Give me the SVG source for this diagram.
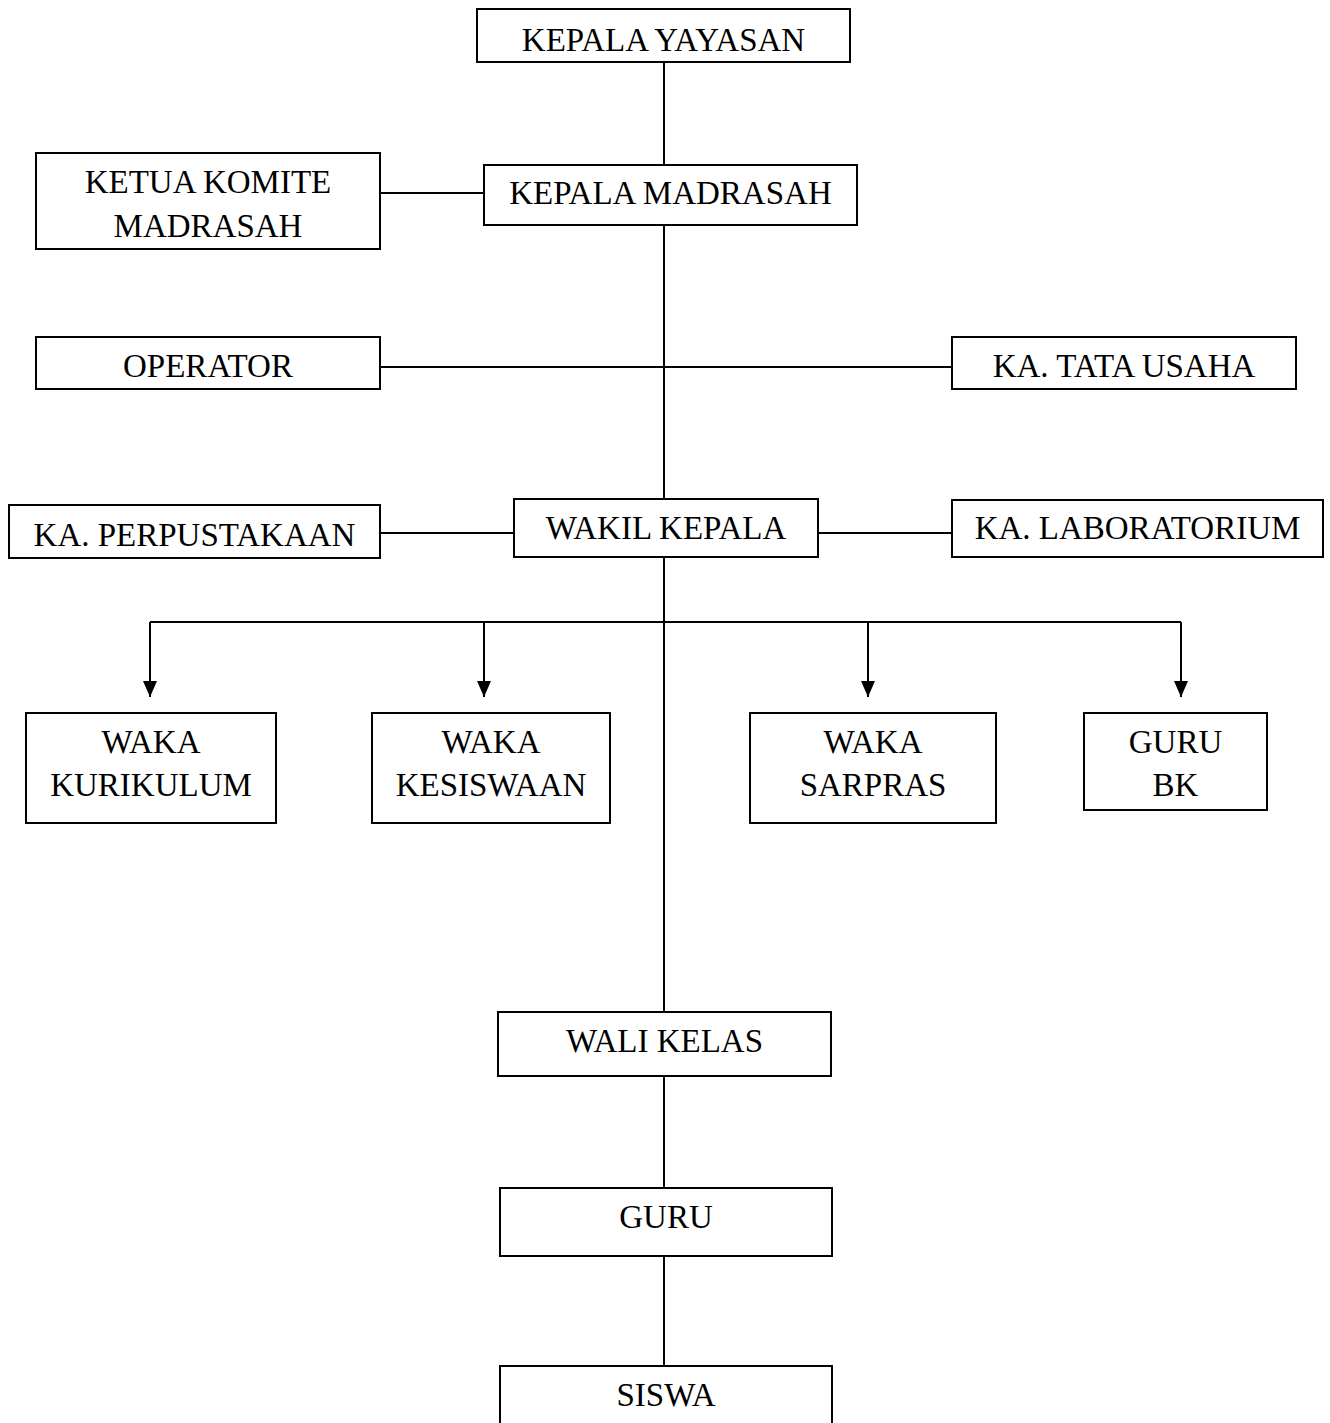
<svg xmlns="http://www.w3.org/2000/svg" width="1330" height="1423" viewBox="0 0 1330 1423">
<style>
.box{fill:#fff;stroke:#000;stroke-width:2}
.t{font-family:"Liberation Serif","Times New Roman",serif;font-size:33px;fill:#000;text-anchor:middle}
.c{stroke:#000;stroke-width:2;fill:none}
</style>
<defs>
<marker id="arr" markerUnits="userSpaceOnUse" markerWidth="16" markerHeight="16" viewBox="0 0 16 16" refX="8" refY="16" orient="0">
<path d="M1,0 L15,0 L8,16 Z" fill="#000"/>
</marker>
</defs>
<rect width="1330" height="1423" fill="#fff"/>
<g id="connectors">
<line class="c" x1="664" y1="62" x2="664" y2="165"/>
<line class="c" x1="380" y1="193" x2="484" y2="193"/>
<line class="c" x1="664" y1="225" x2="664" y2="500"/>
<line class="c" x1="380" y1="367" x2="952" y2="367"/>
<line class="c" x1="380" y1="533" x2="514" y2="533"/>
<line class="c" x1="818" y1="533" x2="952" y2="533"/>
<line class="c" x1="664" y1="557" x2="664" y2="1012"/>
<line class="c" x1="150" y1="622" x2="1181" y2="622"/>
<line class="c" x1="150" y1="622" x2="150" y2="697" marker-end="url(#arr)"/>
<line class="c" x1="484" y1="622" x2="484" y2="697" marker-end="url(#arr)"/>
<line class="c" x1="868" y1="622" x2="868" y2="697" marker-end="url(#arr)"/>
<line class="c" x1="1181" y1="622" x2="1181" y2="697" marker-end="url(#arr)"/>
<line class="c" x1="664" y1="1076" x2="664" y2="1188"/>
<line class="c" x1="664" y1="1256" x2="664" y2="1366"/>
</g>
<g id="kepala-yayasan"><rect class="box" x="477" y="9" width="373" height="53"/><text class="t" x="663.5" y="51">KEPALA YAYASAN</text></g>
<g id="kepala-madrasah"><rect class="box" x="484" y="165" width="373" height="60"/><text class="t" x="670.5" y="204">KEPALA MADRASAH</text></g>
<g id="ketua-komite"><rect class="box" x="36" y="153" width="344" height="96"/><text class="t" x="208" y="193">KETUA KOMITE</text><text class="t" x="208" y="237">MADRASAH</text></g>
<g id="operator"><rect class="box" x="36" y="337" width="344" height="52"/><text class="t" x="208" y="377">OPERATOR</text></g>
<g id="ka-tata-usaha"><rect class="box" x="952" y="337" width="344" height="52"/><text class="t" x="1124" y="377">KA. TATA USAHA</text></g>
<g id="ka-perpustakaan"><rect class="box" x="9" y="505" width="371" height="53"/><text class="t" x="194.5" y="546">KA. PERPUSTAKAAN</text></g>
<g id="wakil-kepala"><rect class="box" x="514" y="499" width="304" height="58"/><text class="t" x="666" y="539">WAKIL KEPALA</text></g>
<g id="ka-laboratorium"><rect class="box" x="952" y="500" width="371" height="57"/><text class="t" x="1137.5" y="539">KA. LABORATORIUM</text></g>
<g id="waka-kurikulum"><rect class="box" x="26" y="713" width="250" height="110"/><text class="t" x="151" y="753">WAKA</text><text class="t" x="151" y="796">KURIKULUM</text></g>
<g id="waka-kesiswaan"><rect class="box" x="372" y="713" width="238" height="110"/><text class="t" x="491" y="753">WAKA</text><text class="t" x="491" y="796">KESISWAAN</text></g>
<g id="waka-sarpras"><rect class="box" x="750" y="713" width="246" height="110"/><text class="t" x="873" y="753">WAKA</text><text class="t" x="873" y="796">SARPRAS</text></g>
<g id="guru-bk"><rect class="box" x="1084" y="713" width="183" height="97"/><text class="t" x="1175.5" y="753">GURU</text><text class="t" x="1175.5" y="796">BK</text></g>
<g id="wali-kelas"><rect class="box" x="498" y="1012" width="333" height="64"/><text class="t" x="664.5" y="1052">WALI KELAS</text></g>
<g id="guru"><rect class="box" x="500" y="1188" width="332" height="68"/><text class="t" x="666" y="1228">GURU</text></g>
<g id="siswa"><rect class="box" x="500" y="1366" width="332" height="70"/><text class="t" x="666" y="1406">SISWA</text></g>
</svg>
